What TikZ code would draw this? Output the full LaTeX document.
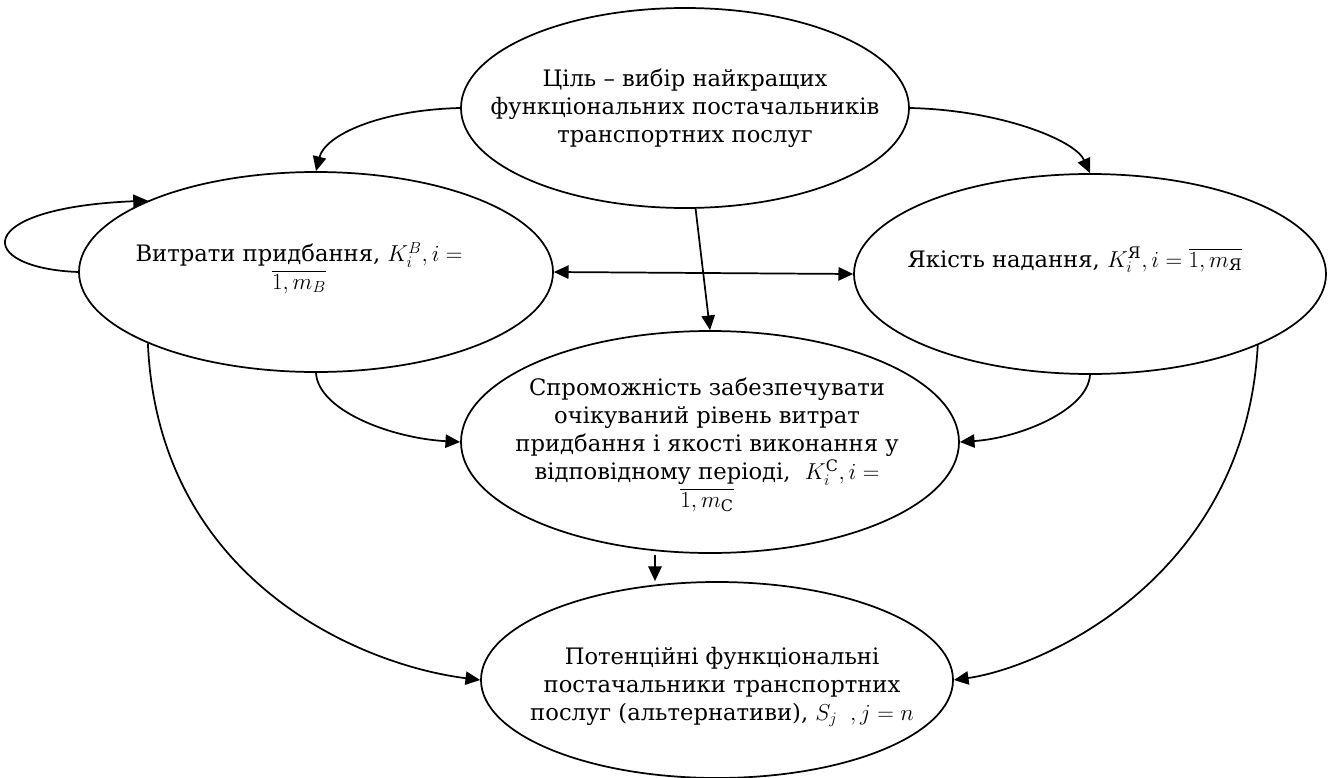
\documentclass[tikz,border=0pt]{standalone}
\usepackage{amsmath}
\usepackage{fontspec}
\setmainfont{DejaVu Serif}
\usetikzlibrary{shapes.geometric,arrows.meta}
\begin{document}
\begin{tikzpicture}[x=0.75pt,y=-0.75pt,
  ell/.style={draw, ellipse, line width=1.3pt, inner sep=0pt},
  txt/.style={align=center, font=\fontsize{17}{21}\selectfont, inner sep=0pt},
  tip/.tip={Triangle[length=11pt,width=10pt]},
  arr/.style={line width=1.3pt, -tip},
  dbl/.style={line width=1.3pt, tip-tip}]
\useasboundingbox (0,0) rectangle (1329,778);
% ellipses
\node[ell, minimum width=336pt, minimum height=150pt] (goal) at (685,108) {};
\node[ell, minimum width=355.5pt, minimum height=150pt] (cost) at (316,272) {};
\node[ell, minimum width=354pt, minimum height=150pt] (qual) at (1090,274) {};
\node[ell, minimum width=373.5pt, minimum height=166.5pt] (mid) at (710,442) {};
\node[ell, minimum width=354pt, minimum height=147pt] (bot) at (717,680) {};
% texts
\node[txt] (goalt) at (goal) {Ціль – вибір найкращих\\функціональних постачальників\\транспортних послуг};
\node[txt] (costt) at (299,268) {Витрати придбання, $K_i^B, i =$\\$\overline{1, m_B}$};
\node[txt] (qualt) at (1075,260) {Якість надання, $K_i^{\text{Я}}, i = \overline{1, m_{\text{Я}}}$};
\node[txt] (midt) at (707,445) {Спроможність забезпечувати\\очікуваний рівень витрат\\придбання і якості виконання у\\відповідному періоді,\ \ $K_i^{\text{С}}, i =$\\$\overline{1, m_{\text{С}}}$};
\node[txt] (bott) at (722,687) {Потенційні функціональні\\постачальники транспортних\\послуг (альтернативи), $S_j\;\;, j = n$};
% connectors
\coordinate (ms) at (655,555);
\draw[arr] (goal.west) .. controls (380,110) and (325,135) .. (cost.north);
\draw[arr] (goal.east) .. controls (1000,110) and (1075,140) .. (qual.north);
\draw[arr] (goal.-84) -- (mid.north);
\draw[dbl] (cost.east) -- (qual.west);
\draw[arr] (cost.south) .. controls (318,410) and (390,438) .. (mid.west);
\draw[arr] (qual.south) .. controls (1088,410) and (1020,438) .. (mid.east);
\draw[arr] (ms) -- (ms |- bot.north);
\draw[arr] (cost.-157) .. controls (158,580) and (360,665) .. (bot.west);
\draw[arr] (qual.-23) .. controls (1245,580) and (1040,668) .. (bot.east);
\draw[arr] (cost.west) .. controls (-25,268) and (-30,208) .. (cost.157.5);
\end{tikzpicture}
\end{document}
